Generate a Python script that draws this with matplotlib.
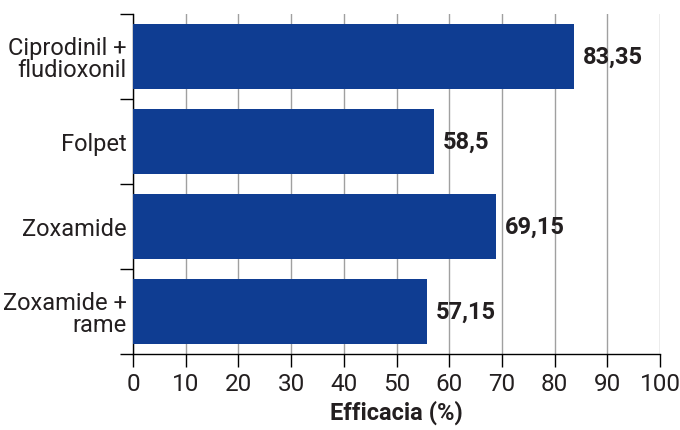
import matplotlib
matplotlib.use("Agg")
import matplotlib.pyplot as plt
import numpy as np

categories = ["Ciprodinil +\nfludioxonil", "Folpet", "Zoxamide", "Zoxamide +\nrame"]
values = [83.7, 57.1, 68.9, 55.8]
value_labels = ["83,35", "58,5", "69,15", "57,15"]
xticks = [0, 10, 20, 30, 40, 50, 60, 70, 80, 90, 100]
xlabel = "Efficacia (%)"

plt.rcParams['font.family'] = ['Roboto', 'DejaVu Sans']
text_color = "#231f20"
bar_color = "#0f3d92"

fig = plt.figure(figsize=(6.8, 4.31), dpi=100)
ax = fig.add_axes([133/680, 1-355/431, (660-133)/680, (355-15)/431])

y = np.arange(len(categories))
ax.barh(y, values, height=0.753, color=bar_color, zorder=3)
for yi, v, lab in zip(y, values, value_labels):
    ax.annotate(lab, (v, yi), xytext=(6.5, 0), textcoords="offset points",
                va="center", ha="left", fontsize=17, fontweight="bold",
                color=text_color)

ax.set_xlim(0, 100)
ax.set_ylim(3.5, -0.5)
ax.set_xticks(xticks)
ax.set_xticklabels([str(t) for t in xticks], fontsize=17.5, fontweight="normal",
                   color=text_color)
ax.tick_params(axis="x", direction="out", length=9, width=1, pad=4, color="black")

ax.set_yticks(np.arange(-0.5, len(categories), 1.0))
ax.set_yticklabels([])
ax.tick_params(axis="y", which="major", direction="out", length=9.5, width=1, color="black")
ax.set_yticks(y, minor=True)
ax.set_yticklabels(categories, minor=True, fontsize=17, fontweight="normal",
                   color=text_color, linespacing=0.95)
ax.tick_params(axis="y", which="minor", length=0, pad=4.5)

ax.grid(axis="x", color="#a0a0a0", linewidth=1, zorder=0)
ax.set_axisbelow(True)
for s in ["top", "right"]:
    ax.spines[s].set_visible(False)
ax.spines["left"].set_color("black")
ax.spines["bottom"].set_color("black")
ax.spines["left"].set_linewidth(1)
ax.spines["bottom"].set_linewidth(1)

ax.set_xlabel(xlabel, fontsize=17, fontweight="bold", color=text_color, labelpad=3)

fig.savefig("out.png", dpi=100)
